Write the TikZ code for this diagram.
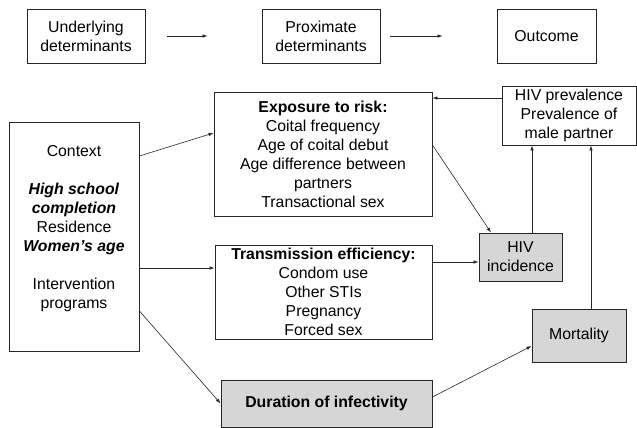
\documentclass[tikz,border=0pt]{standalone}
\usepackage{fontspec}
\setmainfont{Liberation Sans}
\usetikzlibrary{arrows.meta}
\definecolor{boxgray}{RGB}{214,214,214}
\tikzset{
  box/.style={draw=black!85, line width=0.9pt, align=center, inner sep=0.75pt,
    font=\fontsize{15.8}{19}\selectfont},
  shadebox/.style={box, fill=boxgray},
  link/.style={draw=black!85, line width=0.6pt, -{Latex[length=5pt,width=3.5pt]}}
}

\begin{document}
\begin{tikzpicture}[x=1pt,y=1pt,yscale=-1,xscale=1]
\useasboundingbox (0,0) rectangle (637,428);

% Key row
\node [box, minimum width=118, minimum height=54] (under) at (86,36) {Underlying\\determinants};
\node [box, minimum width=118, minimum height=54] (prox) at (321,36) {Proximate\\determinants};
\node [box, minimum width=99, minimum height=54] (outc) at (546.5,36) {Outcome};
\draw [link, shorten <=22pt, shorten >=54pt] (under.east) -- (prox.west);
\draw [link, shorten <=10pt, shorten >=54pt] (prox.east) -- (outc.west);

%Shape: Rectangle - underlying
\node [box, minimum width=130, minimum height=229] (context) at (74,236.5)
  {Context\\[19pt]\textbf{\textit{High school}}\\\textbf{\textit{completion}}\\Residence\\\textbf{\textit{Women’s age}}\\[19pt]Intervention\\programs\\~};

%Shape: Rectangle - proximate
\node [box, minimum width=218, minimum height=124] (expo) at (323,154)
  {\textbf{Exposure to risk:}\\Coital frequency\\Age of coital debut\\Age difference between\\partners\\Transactional sex};
\node [box, minimum width=217, minimum height=94] (trans) at (323.5,292)
  {\textbf{Transmission efficiency:}\\Condom use\\Other STIs\\Pregnancy\\Forced sex};
\node [shadebox, minimum width=211, minimum height=47] (dur) at (326.5,403.5)
  {\textbf{Duration of infectivity}};

%Shape: Rectangle - outcome
\node [shadebox, minimum width=83, minimum height=48] (inc) at (520.5,257) {HIV\\incidence};
\node [shadebox, minimum width=94, minimum height=53] (mort) at (579,335.5) {Mortality};
\node [box, minimum width=134, minimum height=59] (prev) at (569,115.5)
  {HIV prevalence\\Prevalence of\\male partner};

% Links
\draw [link] (context.east |- 0,156) -- (expo.west |- 0,133);
\draw [link] (context.east |- 0,268) -- (trans.west |- 0,268);
\draw [link] (context.east |- 0,311) -- (dur.west);
\draw [link] (expo.east |- 0,145) -- (inc.north -| 491,0);
\draw [link] (trans.east |- 0,262) -- (inc.west |- 0,262);
\draw [link] (prev.west |- 0,98) -- (expo.east |- 0,98);
\draw [link] (inc.north -| 532,0) -- (prev.south -| 532,0);
\draw [link] (mort.north -| 591,0) -- (prev.south -| 591,0);
\draw [link] (dur.east |- 0,397) -- (mort.west |- 0,346);

\end{tikzpicture}
\end{document}
